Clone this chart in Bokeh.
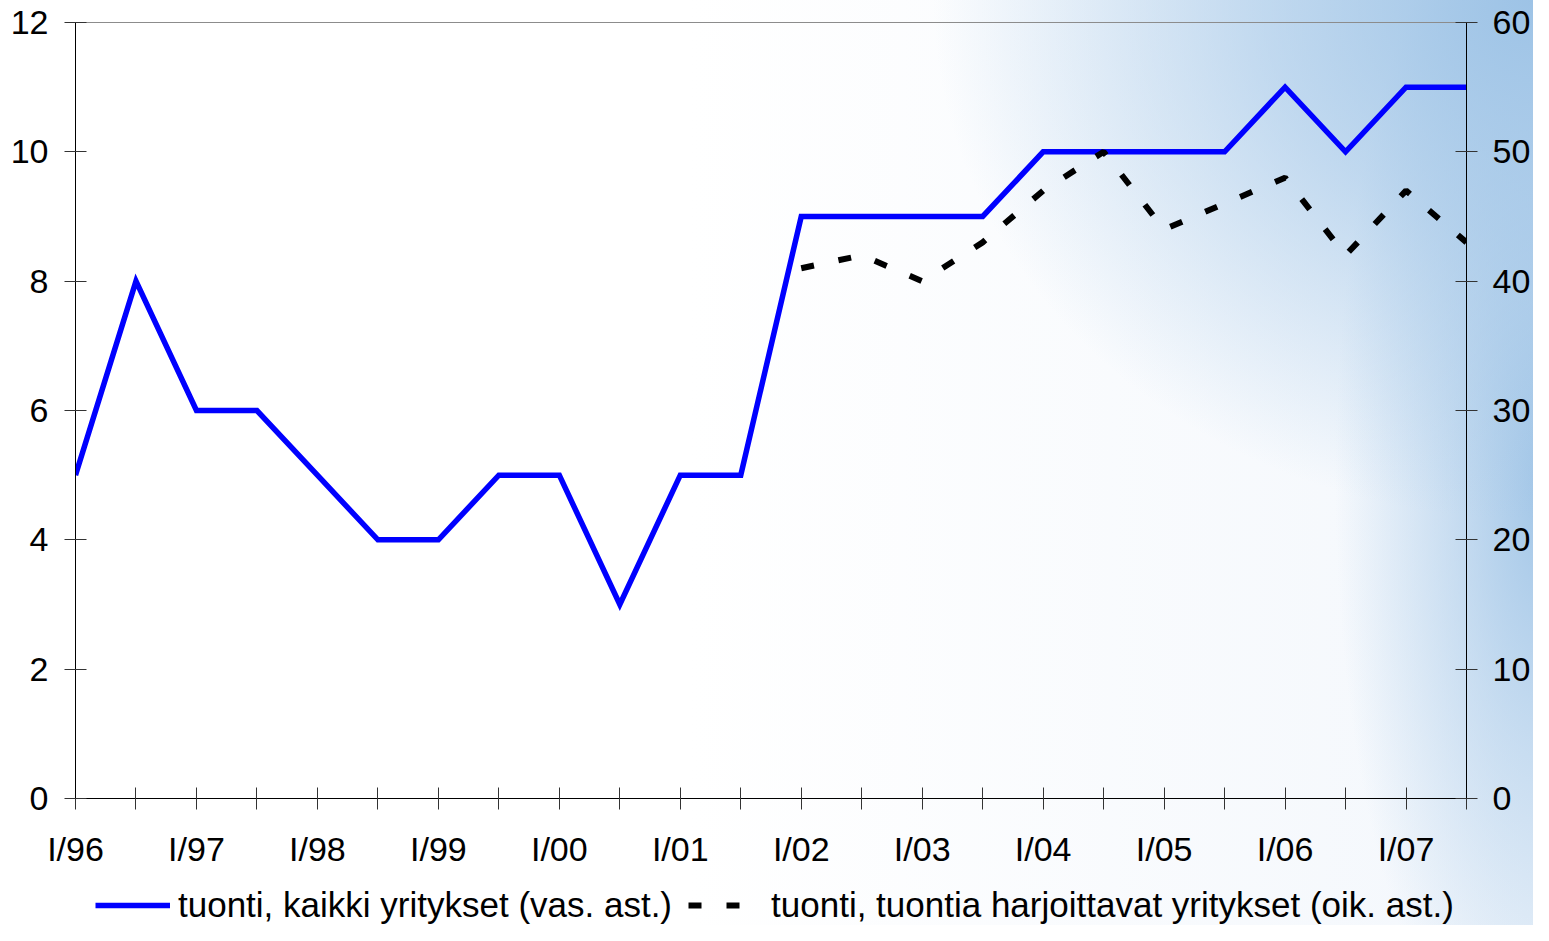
from bokeh.plotting import figure
from bokeh.layouts import column
from bokeh.models import (ColumnDataSource, LinearAxis, Range1d, FixedTicker,
                          Legend, LegendItem)
from bokeh.embed import file_html
from bokeh.resources import INLINE

# ---- data ----
periods = ["I/96", "II/96", "I/97", "II/97", "I/98", "II/98", "I/99", "II/99",
           "I/00", "II/00", "I/01", "II/01", "I/02", "II/02", "I/03", "II/03",
           "I/04", "II/04", "I/05", "II/05", "I/06", "II/06", "I/07", "II/07"]
all_firms = [5, 8, 6, 6, 5, 4, 4, 5, 5, 3, 5, 5, 9, 9, 9, 9,
             10, 10, 10, 10, 11, 10, 11, 11]
importers_periods = ["I/02", "II/02", "I/03", "II/03", "I/04", "II/04",
                     "I/05", "II/05", "I/06", "II/06", "I/07", "II/07"]
importers = [41, 42, 40, 43, 47, 50, 44, 46, 48, 42, 47, 43]
left_ticks = [0, 2, 4, 6, 8, 10, 12]
right_ticks = [0, 10, 20, 30, 40, 50, 60]
label1 = "tuonti, kaikki yritykset (vas. ast.)"
label2 = "tuonti, tuontia harjoittavat yritykset (oik. ast.)"

idx = {p: i for i, p in enumerate(periods)}
src1 = ColumnDataSource(dict(x=[idx[p] for p in periods], y=all_firms))
src2 = ColumnDataSource(dict(x=[idx[p] for p in importers_periods], y=importers))

FONT = "Liberation Sans"
FS = "34px"
FS_LEG = "35px"
W = 1533
H_MAIN = 870
H_LEG = 925 - H_MAIN

BLUE = dict(line_color="#0000ff", line_width=5.5, line_join="miter")
DASH = dict(line_color="black", line_width=6, line_dash="13 25", line_cap="butt")

p = figure(width=W, height=H_MAIN, output_backend="svg", toolbar_location=None,
           x_range=Range1d(0, len(periods) - 1), y_range=Range1d(0, 12),
           min_border_left=75, min_border_right=63, min_border_top=22,
           min_border_bottom=H_MAIN - 799)
p.extra_y_ranges = {"right": Range1d(0, 60)}
p.background_fill_color = None
p.border_fill_color = None
p.outline_line_color = "#8c8c8c"
p.outline_line_width = 1
p.xgrid.visible = False
p.ygrid.visible = False

def style_axis(ax):
    ax.axis_line_color = "black"
    ax.axis_line_width = 1
    ax.major_tick_line_color = "#333333"
    ax.major_tick_in = 11
    ax.major_tick_out = 11
    ax.minor_tick_line_color = None
    ax.major_label_text_font = FONT
    ax.major_label_text_font_size = FS
    ax.major_label_text_color = "black"

xa = p.xaxis[0]
style_axis(xa)
xa.ticker = FixedTicker(ticks=list(range(len(periods))))
xa.major_label_overrides = {i: (lab if lab.startswith("I/") else "")
                            for i, lab in enumerate(periods)}
xa.major_label_standoff = 20

ya = p.yaxis[0]
style_axis(ya)
ya.ticker = FixedTicker(ticks=left_ticks)
ya.major_label_standoff = 16

ra = LinearAxis(y_range_name="right", ticker=FixedTicker(ticks=right_ticks))
style_axis(ra)
ra.major_label_standoff = 15
p.add_layout(ra, "right")

p.line("x", "y", source=src1, **BLUE)
p.line("x", "y", source=src2, y_range_name="right", **DASH)

# ---- legend strip (its frame is aligned with the main frame by the column) ----
q = figure(width=W, height=H_LEG, output_backend="svg", toolbar_location=None,
           x_range=Range1d(0, 1), y_range=Range1d(-2, -1),
           x_axis_location=None, y_axis_location=None,
           min_border_left=75, min_border_right=63, min_border_top=0,
           min_border_bottom=0)
q.background_fill_color = None
q.border_fill_color = None
q.outline_line_color = None
q.xgrid.visible = False
q.ygrid.visible = False
# same series, outside this strip's visible range: used only for legend swatches
e1 = q.line("x", "y", source=src1, **BLUE)
e2 = q.line("x", "y", source=src2, **DASH)
legend = Legend(items=[LegendItem(label=label1, renderers=[e1]),
                       LegendItem(label=label2, renderers=[e2])],
                orientation="horizontal", location=(20, 0),
                glyph_width=75, glyph_height=30, label_standoff=8, spacing=16,
                padding=0, margin=0, border_line_color=None,
                background_fill_alpha=0,
                label_text_font=FONT, label_text_font_size=FS_LEG,
                label_text_color="black")
q.add_layout(legend, "center")

BL = "157,195,230"
layout = column(p, q, spacing=0)
layout.styles = {
    "background":
        f"radial-gradient(ellipse 600px 520px at 1533px 0px, rgba({BL},1) 0%, "
        f"rgba({BL},0.6) 45%, rgba({BL},0) 100%), "
        f"radial-gradient(ellipse 210px 620px at 1545px 480px, rgba({BL},0.95) 0%, "
        f"rgba({BL},0.5) 45%, rgba({BL},0) 100%), "
        "linear-gradient(to right, #ffffff 45%, #f3f7fc 100%)"
}

open("out.html", "w").write(file_html(layout, INLINE))
